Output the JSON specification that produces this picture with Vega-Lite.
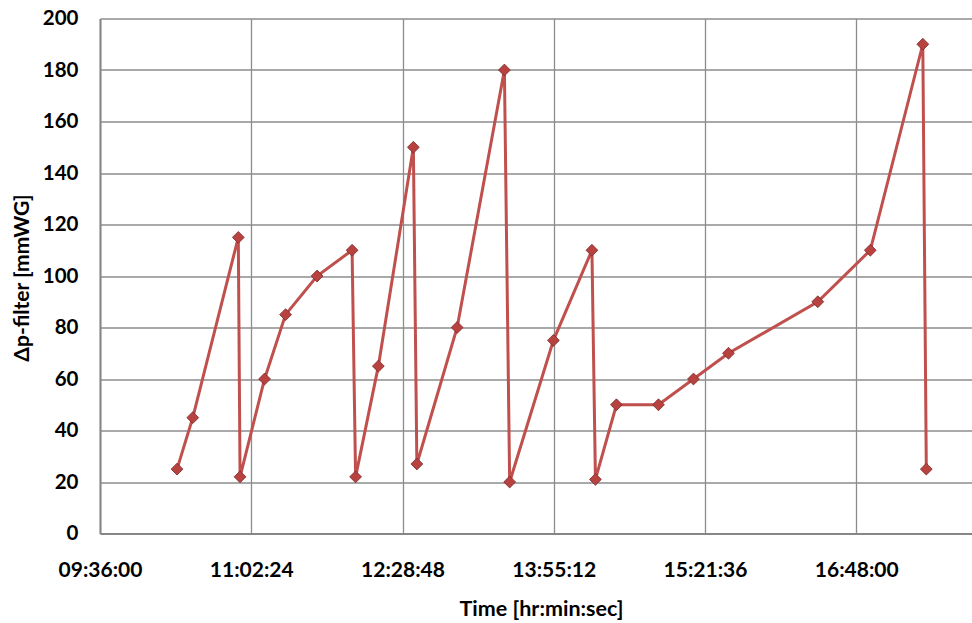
{
  "$schema": "https://vega.github.io/schema/vega-lite/v6.json",
  "autosize": "none",
  "width": 872,
  "height": 515,
  "padding": {"left": 100, "top": 18.5, "right": 0, "bottom": 89.5},
  "background": "white",
  "config": {
    "view": {"stroke": null},
    "font": "Lato"
  },
  "data": {
    "values": [
      {"minutes": 620, "dp": 25},
      {"minutes": 629, "dp": 45},
      {"minutes": 655, "dp": 115},
      {"minutes": 656, "dp": 22},
      {"minutes": 670, "dp": 60},
      {"minutes": 682, "dp": 85},
      {"minutes": 700, "dp": 100},
      {"minutes": 720, "dp": 110},
      {"minutes": 722, "dp": 22},
      {"minutes": 735, "dp": 65},
      {"minutes": 755, "dp": 150},
      {"minutes": 757, "dp": 27},
      {"minutes": 780, "dp": 80},
      {"minutes": 807, "dp": 180},
      {"minutes": 810, "dp": 20},
      {"minutes": 835, "dp": 75},
      {"minutes": 857, "dp": 110},
      {"minutes": 859, "dp": 21},
      {"minutes": 871, "dp": 50},
      {"minutes": 895, "dp": 50},
      {"minutes": 915, "dp": 60},
      {"minutes": 935, "dp": 70},
      {"minutes": 986, "dp": 90},
      {"minutes": 1016, "dp": 110},
      {"minutes": 1046, "dp": 190},
      {"minutes": 1048, "dp": 25}
    ]
  },
  "encoding": {
    "x": {
      "field": "minutes",
      "type": "quantitative",
      "scale": {"domain": [576, 1074.1], "nice": false, "zero": false},
      "axis": {
        "values": [576, 662.4, 748.8, 835.2, 921.6, 1008],
        "labelExpr": "(floor(round(datum.value*60)/3600)<10?'0':'') + floor(round(datum.value*60)/3600) + ':' + (floor((round(datum.value*60)%3600)/60)<10?'0':'') + floor((round(datum.value*60)%3600)/60) + ':' + ((round(datum.value*60)%60)<10?'0':'') + (round(datum.value*60)%60)",
        "title": "Time [hr:min:sec]",
        "titleFontSize": 21.5,
        "titleFontWeight": "bold",
        "titleColor": "#000000",
        "titleX": 441,
        "titleY": 76,
        "titleAlign": "center",
        "titleBaseline": "middle",
        "labelFontSize": 21,
        "labelFontWeight": "bold",
        "labelColor": "#000000",
        "labelPadding": 26,
        "labelFlush": false,
        "labelOverlap": false,
        "ticks": false,
        "domainColor": "#868686",
        "domainWidth": 2,
        "grid": true,
        "gridColor": "#8c8c8c",
        "gridWidth": 1.3
      }
    },
    "y": {
      "field": "dp",
      "type": "quantitative",
      "scale": {"domain": [0, 200], "nice": false},
      "axis": {
        "values": [0, 20, 40, 60, 80, 100, 120, 140, 160, 180, 200],
        "title": "Δp-filter [mmWG]",
        "titleFontSize": 21,
        "titleFontWeight": "bold",
        "titleColor": "#000000",
        "titleAngle": -90,
        "titleX": -77.5,
        "titleY": 259,
        "titleAlign": "center",
        "titleBaseline": "middle",
        "labelFontSize": 20.5,
        "labelFontWeight": "bold",
        "labelColor": "#000000",
        "labelPadding": 22,
        "labelFlush": false,
        "ticks": false,
        "domainColor": "#868686",
        "domainWidth": 2,
        "grid": true,
        "gridColor": "#8c8c8c",
        "gridWidth": 1.3
      }
    }
  },
  "layer": [
    {
      "mark": {"type": "line", "color": "#c0504d", "strokeWidth": 3, "clip": true}
    },
    {
      "mark": {"type": "point", "shape": "diamond", "size": 140, "filled": true, "fill": "#b8423f", "stroke": "#7a2a28", "strokeWidth": 0.8, "opacity": 1}
    }
  ]
}
